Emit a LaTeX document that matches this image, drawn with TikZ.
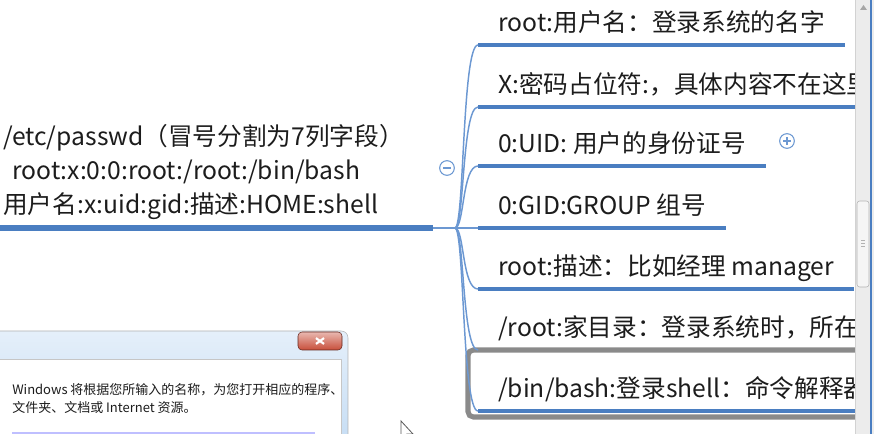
\documentclass[tikz,border=0pt]{standalone}
\usepackage{fontspec}
\setmainfont{Noto Sans CJK SC}
\usetikzlibrary{positioning}
\definecolor{lineblue}{RGB}{74,126,193}
\definecolor{twigblue}{RGB}{108,152,210}
\definecolor{inkgray}{RGB}{28,28,28}
\definecolor{selgray}{RGB}{138,138,138}
\definecolor{barback}{RGB}{236,236,236}
\definecolor{frameblue}{RGB}{196,220,244}
\definecolor{closered}{RGB}{200,78,58}
\tikzset{
  topic/.style={anchor=south west, font=\fontsize{18.5}{25.5}\selectfont, text=inkgray,
                inner xsep=15pt, inner ysep=5.75pt, text height=13pt, text depth=4pt},
  rootnode/.style={topic, text width=319.5pt, align=left, inner xsep=2.25pt,
                   inner ysep=5.75pt, text height=, text depth=},
  uline/.style={draw=lineblue, line width=3.4pt},
  twig/.style={draw=twigblue, line width=1.1pt},
  fold/.style={circle, draw=twigblue, line width=0.8pt, minimum size=11pt, inner sep=0pt},
  dlgtext/.style={anchor=base west, font=\fontsize{9.75}{12}\selectfont, text=inkgray, inner sep=0pt}
}
\begin{document}
\begin{tikzpicture}[x=0.75pt,y=-0.75pt]
  \useasboundingbox (0,0) rectangle (874,434);
  \clip (0,0) rectangle (874,434);
  % root topic
  \node[rootnode] (passwd) at (0,228) {/etc/passwd（冒号分割为7列字段）\\
    \hspace*{7pt}root:x:0:0:root:/root:/bin/bash\\
    用户名:x:uid:gid:描述:HOME:shell};
  \draw[uline, line width=3.8pt] (passwd.south west) -- (passwd.south east);
  \coordinate (hub) at (455,228);
  \draw[twig, line width=1.6pt] (passwd.south east) -- (hub);
  \node[fold] (minus) at (447,168) {};
  \draw[twigblue, line width=0.8pt] ([xshift=-3pt]minus.center) -- ([xshift=3pt]minus.center);
  % subtopics
  \begin{scope}
    \clip (0,0) rectangle (855,434);
    \node[topic] (uname) at (478,45)  {root:用户名：登录系统的名字};
    \node[topic] (pwd)   at (478,107) {X:密码占位符:，具体内容不在这里};
    \node[topic] (uid)   at (478,166) {0:UID: 用户的身份证号};
    \node[topic] (gid)   at (478,228) {0:GID:GROUP 组号};
    \node[topic] (desc)  at (478,289) {root:描述：比如经理 manager};
    \node[topic] (home)  at (478,350) {/root:家目录：登录系统时，所在};
    \node[topic] (shell) at (478,411) {/bin/bash:登录shell：命令解释器};
    \foreach \t in {uname,pwd,uid,gid,desc,home,shell}
      \draw[uline] (\t.south west) -- (\t.south east);
    % selected topic
    \draw[selgray, line width=3.8pt, rounded corners=4pt] (468,350) rectangle (900,417);
  \end{scope}
  \foreach \t in {uname,pwd,uid,gid,desc,home,shell}
    \draw[twig] (hub) .. controls ([xshift=7pt]hub) and ([xshift=-12pt]\t.south west) .. (\t.south west);
  \node[fold] (plus) at (787,141) {};
  \draw[twigblue, line width=0.8pt] ([xshift=-3pt]plus.center) -- ([xshift=3pt]plus.center)
    ([yshift=-3pt]plus.center) -- ([yshift=3pt]plus.center);
  % scroll bar
  \fill[barback] (855,0) rectangle (874,434);
  \draw[gray!35] (855,0) -- (855,434);
  \fill[gray!70] (860,10) -- (867,10) -- (863.5,5) -- cycle;
  \draw[gray!60, fill=gray!8, rounded corners=2pt] (857,201) rectangle (869,287);
  \foreach \g in {240,243,246}
    \draw[gray!60] (861,\g) -- (865,\g);
  \draw[lineblue, line width=1.2pt] (871,0) -- (871,434);
  % dialog window
  \draw[gray!60, top color=frameblue!45, bottom color=frameblue, rounded corners=5pt]
    (-10,331) rectangle (348,450);
  \draw[gray!45, fill=white] (-2,359) rectangle (341,450);
  \draw[closered!50!black, top color=closered!40, bottom color=closered, rounded corners=3pt]
    (298,332) rectangle (342,350);
  \coordinate (xmark) at (320,341);
  \draw[white, line width=1.6pt] ([shift={(-3pt,-2.2pt)}]xmark) -- ([shift={(3pt,2.2pt)}]xmark)
    ([shift={(-3pt,2.2pt)}]xmark) -- ([shift={(3pt,-2.2pt)}]xmark);
  \node[dlgtext] (hint1) at (12,394) {Windows 将根据您所输入的名称，为您打开相应的程序、};
  \node[dlgtext] (hint2) at (12,412) {文件夹、文档或 Internet 资源。};
  \draw[blue!25, line width=0.8pt] (12,433) -- (315,433);
  % mouse pointer
  \draw[gray!70!black, fill=white, line width=0.6pt] (401,421) -- (401,439) -- (405,435)
    -- (408,442) -- (410,441) -- (407,434) -- (413,434) -- cycle;
\end{tikzpicture}
\end{document}
